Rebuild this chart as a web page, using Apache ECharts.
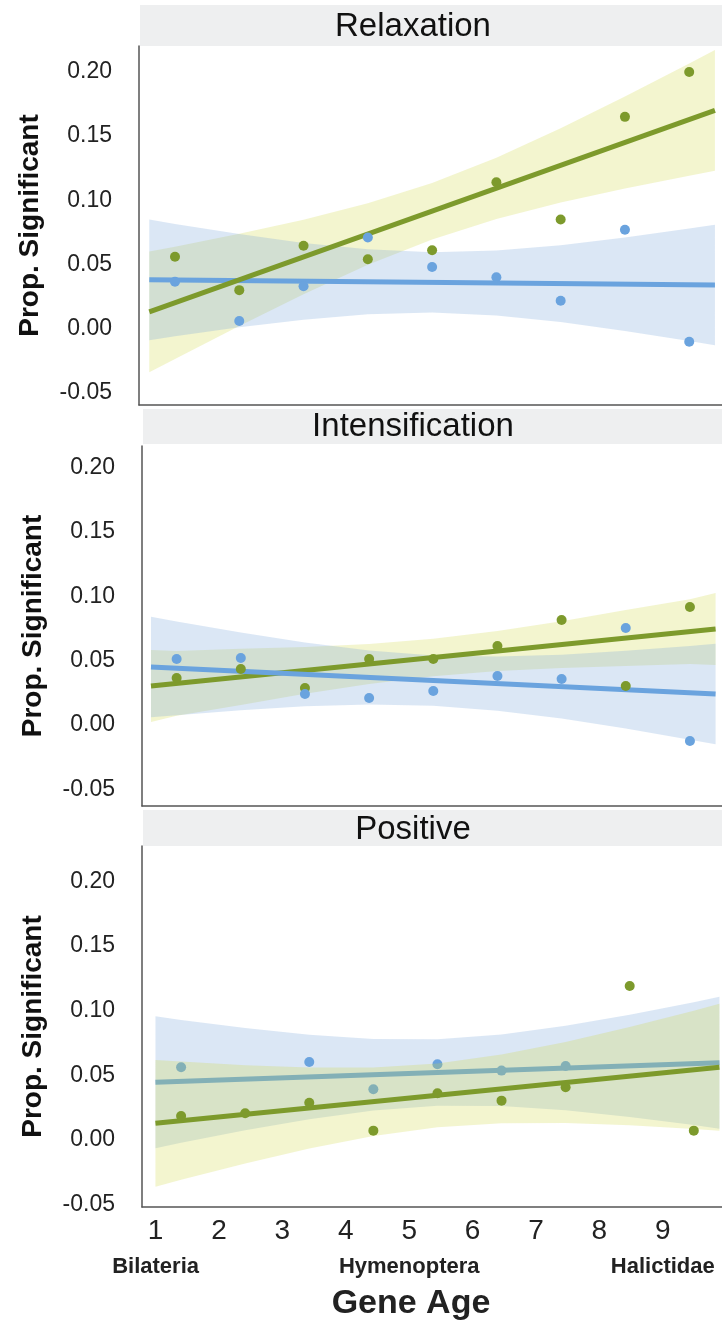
<!DOCTYPE html>
<html>
<head>
<meta charset="utf-8">
<script src="https://cdn.jsdelivr.net/npm/echarts@6/dist/echarts.min.js"></script>
<style>
  html, body { margin: 0; padding: 0; background: #fff; }
  #chart { width: 722px; height: 1336px; }
</style>
</head>
<body>
<div id="chart"></div>
<script>
// Gene age classes (x positions of the points)
const ages = [1, 2, 3, 4, 5, 6, 7, 8, 9];
// x positions where the regression band edges are sampled
const bandX = [0.6, 1, 2, 3, 4, 5, 6, 7, 8, 9, 9.4];
// x extent of the fitted lines
const fitX = [0.6, 9.4];

const panelTitles = ['Relaxation', 'Intensification', 'Positive'];
const yTicks = [-0.05, 0, 0.05, 0.10, 0.15, 0.20];
const ageTicks = [1, 2, 3, 4, 5, 6, 7, 8, 9];
const cladeTicks = [1, 5, 9];
const cladeNames = ['Bilateria', 'Hymenoptera', 'Halictidae'];

// Relaxation
const relaxGreenPts = [0.056, 0.030, 0.0646, 0.054, 0.061, 0.114, 0.085, 0.165, 0.200];
const relaxBluePts  = [0.0365, 0.006, 0.033, 0.071, 0.048, 0.040, 0.0217, 0.077, -0.0102];
const relaxGreenFit = [0.013, 0.170];
const relaxBlueFit  = [0.038, 0.034];
const relaxGreenHi = [0.060, 0.0638, 0.0739, 0.0848, 0.0976, 0.1135, 0.1332, 0.1562, 0.1809, 0.2066, 0.217];
const relaxGreenLo = [-0.034, -0.0236, 0.0021, 0.0268, 0.0498, 0.0695, 0.0854, 0.0982, 0.1091, 0.1192, 0.123];
const relaxBlueHi  = [0.085, 0.0816, 0.0738, 0.0668, 0.0618, 0.0595, 0.0608, 0.0650, 0.0710, 0.0780, 0.081];
const relaxBlueLo  = [-0.009, -0.006, 0.001, 0.007, 0.0112, 0.0125, 0.0102, 0.0052, -0.0018, -0.0096, -0.013];

// Intensification
const intGreenPts = [0.0365, 0.0435, 0.0287, 0.0512, 0.0512, 0.0613, 0.0815, 0.0303, 0.0916];
const intBluePts  = [0.0512, 0.052, 0.024, 0.021, 0.0264, 0.038, 0.0357, 0.0753, -0.0124];
const intGreenFit = [0.0303, 0.0745];
const intBlueFit  = [0.045, 0.024];
const intGreenHi = [0.0583, 0.0575, 0.0591, 0.0605, 0.0629, 0.0669, 0.0729, 0.0805, 0.0893, 0.0977, 0.1025];
const intGreenLo = [0.0023, 0.0071, 0.0155, 0.0243, 0.0319, 0.0379, 0.0419, 0.0443, 0.0457, 0.0473, 0.0465];
const intBlueHi  = [0.084, 0.0804, 0.0719, 0.0641, 0.0579, 0.054, 0.0531, 0.0546, 0.0576, 0.0614, 0.063];
const intBlueLo  = [0.006, 0.0076, 0.0115, 0.0145, 0.0159, 0.015, 0.0111, 0.005, -0.0028, -0.0114, -0.015];

// Positive
const posGreenPts = [0.0185, 0.0206, 0.0288, 0.0072, 0.0361, 0.0304, 0.0407, 0.119, 0.0072];
const posBluePts  = [0.0562, null, 0.0603, 0.0392, 0.0585, 0.0536, 0.0572, null, null];
const posGreenFit = [0.0129, 0.0562];
const posBlueFit  = [0.0446, 0.0597];
const posGreenHi = [0.0619, 0.0606, 0.0578, 0.056, 0.0561, 0.0592, 0.066, 0.0757, 0.0873, 0.0999, 0.1052];
const posGreenLo = [-0.0361, -0.0308, -0.0182, -0.0066, 0.0031, 0.0098, 0.013, 0.0131, 0.0113, 0.0085, 0.0072];
const posBlueHi  = [0.0956, 0.0928, 0.0865, 0.0813, 0.078, 0.0778, 0.0815, 0.0882, 0.0968, 0.1065, 0.1107];
const posBlueLo  = [-0.0064, -0.0022, 0.0075, 0.0161, 0.0228, 0.0264, 0.0263, 0.023, 0.0178, 0.0115, 0.0087];

const GREEN = '#7d9a2c';
const BLUE = '#6aa3de';
const GREEN_BAND = 'rgba(207,215,63,0.25)';
const BLUE_BAND = 'rgba(122,166,218,0.27)';
const FONT = "'Liberation Sans Narrow', 'Liberation Sans', Arial, sans-serif";
const FONT_REG = "'Liberation Sans', Arial, sans-serif";

const panels = [
  { grid: { left: 139, top: 46, width: 583, height: 359 }, x: [0.44, 9.51], y: [-0.0595, 0.2202],
    green: [relaxGreenPts, relaxGreenFit, relaxGreenLo, relaxGreenHi],
    blue: [relaxBluePts, relaxBlueFit, relaxBlueLo, relaxBlueHi],
    strip: { x: 140, y: 5, h: 41 }, titleMid: 27, order: 'blueUnder' },
  { grid: { left: 142, top: 446, width: 580, height: 360 }, x: [0.46, 9.50], y: [-0.0629, 0.2166],
    green: [intGreenPts, intGreenFit, intGreenLo, intGreenHi],
    blue: [intBluePts, intBlueFit, intBlueLo, intBlueHi],
    strip: { x: 143, y: 409, h: 35 }, titleMid: 427, order: 'greenUnder' },
  { grid: { left: 142, top: 846, width: 580, height: 361 }, x: [0.39, 9.44], y: [-0.0518, 0.2272],
    green: [posGreenPts, posGreenFit, posGreenLo, posGreenHi],
    blue: [posBluePts, posBlueFit, posBlueLo, posBlueHi],
    strip: { x: 143, y: 810, h: 36 }, titleMid: 830, order: 'blueBelowGreenBand' }
];

function bandSeries(lo, hi, fill, xi, z) {
  return {
    type: 'custom', xAxisIndex: xi, yAxisIndex: xi, z: z, silent: true,
    data: bandX.map((x, i) => [x, lo[i], hi[i]]),
    encode: { x: 0, y: [1, 2] },
    renderItem: function (params, api) {
      if (params.dataIndex !== 0) return null;
      const upper = bandX.map((x, i) => api.coord([x, hi[i]]));
      const lower = bandX.map((x, i) => api.coord([x, lo[i]])).reverse();
      return { type: 'polygon', shape: { points: upper.concat(lower) }, style: { fill: fill } };
    }
  };
}
function fitSeries(fit, color, xi, z) {
  return {
    type: 'line', xAxisIndex: xi, yAxisIndex: xi, z: z, silent: true,
    data: fitX.map((x, i) => [x, fit[i]]), showSymbol: false, symbol: 'none',
    lineStyle: { color: color, width: 5 }
  };
}
function pointSeries(pts, color, xi, z) {
  return {
    type: 'scatter', xAxisIndex: xi, yAxisIndex: xi, z: z, silent: true,
    data: ages.map((a, i) => [a, pts[i]]).filter(d => d[1] !== null),
    symbolSize: 10, itemStyle: { color: color, opacity: 1 }
  };
}

const series = [];
panels.forEach((p, i) => {
  const [gPts, gFit, gLo, gHi] = p.green;
  const [bPts, bFit, bLo, bHi] = p.blue;
  if (p.order === 'blueBelowGreenBand') {
    series.push(bandSeries(bLo, bHi, BLUE_BAND, i, 1));
    series.push(fitSeries(bFit, BLUE, i, 2));
    series.push(pointSeries(bPts, BLUE, i, 3));
    series.push(bandSeries(gLo, gHi, GREEN_BAND, i, 4));
    series.push(fitSeries(gFit, GREEN, i, 5));
    series.push(pointSeries(gPts, GREEN, i, 6));
  } else {
    series.push(bandSeries(gLo, gHi, GREEN_BAND, i, 1));
    series.push(bandSeries(bLo, bHi, BLUE_BAND, i, 1));
    const gz = p.order === 'blueUnder' ? 4 : 3;
    const bz = p.order === 'blueUnder' ? 3 : 4;
    series.push(fitSeries(gFit, GREEN, i, gz));
    series.push(fitSeries(bFit, BLUE, i, bz));
    series.push(pointSeries(gPts, GREEN, i, 5));
    series.push(pointSeries(bPts, BLUE, i, 6));
  }
});

const axisLineStyle = { show: true, onZero: false, lineStyle: { color: '#555', width: 1.5 } };

const xAxis = panels.map((p, i) => ({
  type: 'value', gridIndex: i, min: p.x[0], max: p.x[1], position: 'bottom',
  axisLine: axisLineStyle, axisTick: { show: false }, axisLabel: { show: false }, splitLine: { show: false }
}));
// Gene age numbers under the bottom panel
xAxis.push({
  type: 'value', gridIndex: 2, min: 0.7855, max: 9.934, position: 'bottom',
  axisLine: { show: false }, axisTick: { show: false }, splitLine: { show: false },
  axisLabel: { show: true, customValues: ageTicks, margin: 10, fontSize: 28, color: '#222', fontFamily: FONT,
    formatter: v => String(v) }
});
// Clade names under the numbers
xAxis.push({
  type: 'value', gridIndex: 2, min: 0.7855, max: 9.934, position: 'bottom',
  axisLine: { show: false }, axisTick: { show: false }, splitLine: { show: false },
  axisLabel: { show: true, customValues: cladeTicks, margin: 49, fontSize: 22, fontWeight: 'bold', color: '#222', fontFamily: FONT_REG,
    formatter: v => cladeNames[cladeTicks.indexOf(v)] }
});

const yAxis = panels.map((p, i) => ({
  type: 'value', gridIndex: i, min: p.y[0], max: p.y[1],
  axisLine: axisLineStyle, axisTick: { show: false }, splitLine: { show: false },
  axisLabel: { customValues: yTicks, margin: 27, fontSize: 23, color: '#222', fontFamily: FONT,
    formatter: v => v.toFixed(2) },
  name: 'Prop. Significant', nameLocation: 'middle', nameGap: 95,
  nameTextStyle: { fontSize: 28, fontWeight: 'bold', color: '#111', fontFamily: FONT_REG }
}));

const titles = panels.map((p, i) => ({
  text: panelTitles[i], left: 413, top: p.titleMid - 17, textAlign: 'center', padding: 0,
  textStyle: { fontSize: 33, fontWeight: 'normal', color: '#111', fontFamily: FONT_REG }
}));
titles.push({
  text: 'Gene Age', left: 411, top: 1287, textAlign: 'center', padding: 0,
  textStyle: { fontSize: 34, fontWeight: 'bold', color: '#222', fontFamily: FONT_REG }
});

const graphic = panels.map(p => ({
  type: 'rect', z: -1, silent: true,
  shape: { x: p.strip.x, y: p.strip.y, width: 722 - p.strip.x, height: p.strip.h },
  style: { fill: '#eeeff0' }
}));

const chart = echarts.init(document.getElementById('chart'), null, { renderer: 'canvas' });
chart.setOption({
  animation: false,
  backgroundColor: '#ffffff',
  title: titles,
  graphic: graphic,
  grid: panels.map(p => Object.assign({ containLabel: false }, p.grid)),
  xAxis: xAxis,
  yAxis: yAxis,
  series: series
});
</script>
</body>
</html>
